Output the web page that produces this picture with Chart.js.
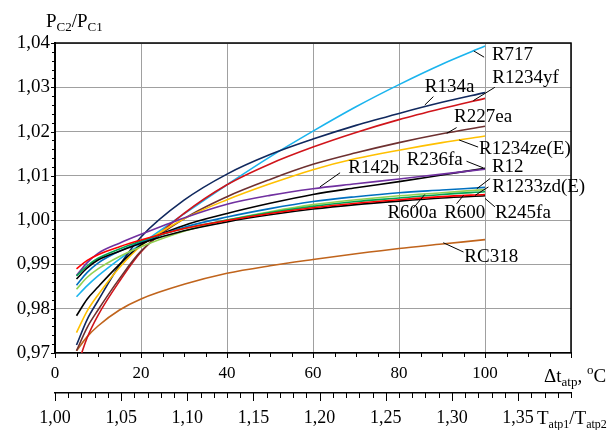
<!DOCTYPE html>
<html lang="ru">
<head>
<meta charset="UTF-8">
<title>Pc2/Pc1</title>
<script src="https://cdn.jsdelivr.net/npm/chart.js"></script>
<style>
    html, body { margin: 0; padding: 0; background: #fff; }
    #wrap { width: 613px; height: 430px; }
</style>
</head>
<body>
<div id="wrap"><canvas id="chart" width="613" height="430"></canvas></div>
<script>
// Δt_atp, °C
const dt = [5, 7.5, 10, 15, 20, 30, 40, 50, 60, 70, 80, 90, 100];

// P_C2/P_C1 по хладагентам
const r717    = [0.9827, 0.9852, 0.9874, 0.9912, 0.9946, 1.0014, 1.0080, 1.0143, 1.0201, 1.0256, 1.0306, 1.0352, 1.0393];
const r134a   = [0.9718, 0.9776, 0.9818, 0.9898, 0.9962, 1.0045, 1.0104, 1.0148, 1.0183, 1.0214, 1.0241, 1.0266, 1.0288];
const r1234yf = [0.9665, 0.9735, 0.9785, 0.9862, 0.9928, 1.0015, 1.0080, 1.0127, 1.0165, 1.0198, 1.0227, 1.0252, 1.0275];
const r227ea  = [0.9705, 0.9758, 0.9797, 0.9868, 0.9930, 1.0003, 1.0053, 1.0092, 1.0126, 1.0152, 1.0175, 1.0195, 1.0212];
const r1234ze = [0.9746, 0.9795, 0.9831, 0.9893, 0.9942, 1.0003, 1.0046, 1.0082, 1.0114, 1.0139, 1.0158, 1.0175, 1.0190];
const r236fa  = [0.9784, 0.9822, 0.9849, 0.9900, 0.9944, 0.9988, 1.0015, 1.0038, 1.0058, 1.0073, 1.0087, 1.0102, 1.0117];
const r142b   = [0.9875, 0.9904, 0.9925, 0.9948, 0.9968, 1.0005, 1.0036, 1.0056, 1.0071, 1.0082, 1.0093, 1.0104, 1.0115];
const r12     = [0.9853, 0.9882, 0.9903, 0.9930, 0.9950, 0.9984, 1.0007, 1.0026, 1.0042, 1.0053, 1.0062, 1.0068, 1.0074];
const r1233zd = [0.9844, 0.9871, 0.9890, 0.9918, 0.9940, 0.9975, 1.0000, 1.0019, 1.0035, 1.0046, 1.0055, 1.0062, 1.0069];
const r600a   = [0.9874, 0.9897, 0.9914, 0.9935, 0.9953, 0.9981, 1.0000, 1.0017, 1.0031, 1.0042, 1.0050, 1.0058, 1.0064];
const r600    = [0.9890, 0.9909, 0.9922, 0.9940, 0.9955, 0.9981, 0.9999, 1.0015, 1.0028, 1.0038, 1.0046, 1.0053, 1.0058];
const r245fa  = [0.9867, 0.9892, 0.9910, 0.9930, 0.9948, 0.9976, 0.9996, 1.0012, 1.0025, 1.0035, 1.0043, 1.0050, 1.0055];
const rc318   = [0.9705, 0.9737, 0.9761, 0.9797, 0.9822, 0.9855, 0.9880, 0.9897, 0.9911, 0.9924, 0.9936, 0.9946, 0.9956];

const names  = ['R600', 'R245fa', 'R600a', 'R12', 'R1233zd(E)', 'R142b', 'R236fa', 'R1234ze(E)', 'R227ea', 'R1234yf', 'R134a', 'R717', 'RC318'];
const series = [r600, r245fa, r600a, r12, r1233zd, r142b, r236fa, r1234ze, r227ea, r1234yf, r134a, r717, rc318];
const colors = ['#ff0000', '#000000', '#00a651', '#0070c0', '#92d050', '#7030a0', '#000000', '#ffc000', '#6e3030', '#d0141a', '#10285e', '#1ab4ee', '#c0641c'];

// тики и подписи осей
const yTicks = [0.97, 0.98, 0.99, 1.00, 1.01, 1.02, 1.03, 1.04];
const xTicks = [0, 20, 40, 60, 80, 100];
const tRatioTicks = [1.00, 1.05, 1.10, 1.15, 1.20, 1.25, 1.30, 1.35];

// подписи кривых: позиция текста и выноска (в единицах осей)
const notes = [
    { t: 'R717',       x: 101.6, y: 1.0373, a: [97.4, 1.0382, 99.8, 1.0368] },
    { t: 'R1234yf',    x: 101.7, y: 1.0320, a: [97.3, 1.0270, 102.3, 1.0300] },
    { t: 'R134a',      x: 86.0,  y: 1.0301, a: [86.0, 1.0260, 88.0, 1.0279] },
    { t: 'R227ea',     x: 92.8,  y: 1.0232, a: [91.1, 1.0196, 93.4, 1.0209] },
    { t: 'R1234ze(E)', x: 98.6,  y: 1.0160, a: [94.0, 1.0181, 98.4, 1.0165] },
    { t: 'R236fa',     x: 81.8,  y: 1.0135, a: [95.7, 1.0133, 99.6, 1.0118] },
    { t: 'R12',        x: 101.6, y: 1.0120, a: [98.1, 1.0071, 101.2, 1.0094] },
    { t: 'R142b',      x: 68.2,  y: 1.0117, a: [61.6, 1.0075, 66.3, 1.0107] },
    { t: 'R1233zd(E)', x: 101.7, y: 1.0075, a: [97.7, 1.0056, 100.8, 1.0075] },
    { t: 'R600a',      x: 77.3,  y: 1.0015, a: [83.3, 1.0027, 86.0, 1.0058] },
    { t: 'R600',       x: 90.5,  y: 1.0015, a: [93.4, 1.0037, 95.0, 1.0056] },
    { t: 'R245fa',     x: 102.3, y: 1.0015, a: [100.0, 1.0049, 102.3, 1.0030] },
    { t: 'RC318',      x: 95.2,  y: 0.9917, a: [90.3, 0.9949, 95.0, 0.9928] }
];

const FONT = '"Liberation Serif", "Times New Roman", serif';
const comma = v => v.toFixed(2).replace('.', ',');

// текст с индексами: [строка, 0 - обычный, 1 - нижний, 2 - верхний]
function rich(ctx, x, y, parts, sub) {
    ctx.textBaseline = 'alphabetic';
    ctx.textAlign = 'left';
    parts.forEach(p => {
        ctx.font = (p[1] ? sub : 19) + 'px ' + FONT;
        const dy = p[1] === 1 ? 4 : (p[1] === 2 ? -8 : 0);
        ctx.fillText(p[0], x, y + dy);
        x += ctx.measureText(p[0]).width;
    });
}

const extras = {
    id: 'extras',
    afterDraw(chart) {
        const ctx = chart.ctx;
        const a = chart.chartArea;
        const sx = chart.scales.x, sy = chart.scales.y, s2 = chart.scales.x2;
        ctx.save();
        ctx.strokeStyle = '#000';
        ctx.fillStyle = '#000';

        // рамка
        ctx.lineWidth = 1.5;
        ctx.beginPath();
        ctx.moveTo(a.left, a.top);
        ctx.lineTo(a.right, a.top);
        ctx.lineTo(a.right, a.bottom);
        ctx.stroke();

        // мелкие и основные риски
        ctx.lineWidth = 1;
        ctx.beginPath();
        for (let i = 0; i <= 35; i++) {
            const py = Math.round(sy.getPixelForValue(0.97 + i * 0.002)) + 0.5;
            const len = i % 5 === 0 ? 4 : 3;
            ctx.moveTo(a.left - len, py);
            ctx.lineTo(a.left, py);
        }
        for (let v = 0; v <= 120; v += 5) {
            const px = Math.round(sx.getPixelForValue(v)) + 0.5;
            ctx.moveTo(px, a.bottom);
            ctx.lineTo(px, a.bottom + (v % 20 === 0 ? 5 : 4));
        }
        for (let i = 100; i <= 139; i++) {
            const px = Math.round(s2.getPixelForValue(i / 100)) + 0.5;
            ctx.moveTo(px, s2.top);
            ctx.lineTo(px, s2.top + (i % 5 === 0 ? 8 : 5));
        }
        ctx.stroke();

        // заголовки осей
        rich(ctx, 46, 27, [['P', 0], ['C2', 1], ['/P', 0], ['C1', 1]], 13);
        rich(ctx, 544, 382, [['\u0394t', 0], ['atp', 1], [', ', 0], ['o', 2], ['C', 0]], 13);
        rich(ctx, 537, 424, [['T', 0], ['atp1', 1], ['/T', 0], ['atp2', 1]], 12);

        // подписи кривых
        ctx.font = '19px ' + FONT;
        ctx.textBaseline = 'middle';
        ctx.textAlign = 'left';
        ctx.lineWidth = 1;
        notes.forEach(n => {
            ctx.beginPath();
            ctx.moveTo(sx.getPixelForValue(n.a[0]), sy.getPixelForValue(n.a[1]));
            ctx.lineTo(sx.getPixelForValue(n.a[2]), sy.getPixelForValue(n.a[3]));
            ctx.stroke();
            ctx.fillText(n.t, sx.getPixelForValue(n.x), sy.getPixelForValue(n.y));
        });
        ctx.restore();
    }
};

const datasets = series.map((s, i) => ({
    label: names[i],
    data: dt.map((x, j) => ({ x: x, y: s[j] })),
    borderColor: colors[i],
    borderWidth: 1.6,
    pointRadius: 0,
    fill: false,
    cubicInterpolationMode: 'monotone'
}));

new Chart(document.getElementById('chart'), {
    type: 'line',
    data: { datasets: datasets },
    plugins: [extras],
    options: {
        responsive: false,
        animation: false,
        devicePixelRatio: 1,
        layout: { padding: { top: 43, right: 42, left: 0, bottom: 0 } },
        plugins: { legend: { display: false }, tooltip: { enabled: false } },
        scales: {
            x: {
                type: 'linear', position: 'bottom', min: 0, max: 120,
                afterBuildTicks: s => { s.ticks = xTicks.concat([120]).map(v => ({ value: v })); },
                ticks: { font: { family: FONT, size: 17 }, color: '#000', padding: 10, maxRotation: 0,
                         callback: v => (xTicks.includes(v) ? String(v) : '') },
                grid: { color: '#a0a0a0', lineWidth: 1, drawTicks: false },
                border: { color: '#000', width: 1.5 },
                afterFit: s => { s.height = 40; }
            },
            x2: {
                type: 'linear', position: 'bottom', min: 1.0, max: 1.39,
                afterBuildTicks: s => { s.ticks = tRatioTicks.map(v => ({ value: v })); },
                ticks: { font: { family: FONT, size: 18 }, color: '#000', padding: 14, maxRotation: 0, autoSkip: false,
                         callback: v => comma(v) },
                grid: { drawOnChartArea: false, drawTicks: false },
                border: { color: '#000', width: 1.5 },
                afterFit: s => { s.height = 37; }
            },
            y: {
                type: 'linear', min: 0.97, max: 1.04,
                afterBuildTicks: s => { s.ticks = yTicks.map(v => ({ value: v })); },
                ticks: { font: { family: FONT, size: 19 }, color: '#000', padding: 5, callback: v => comma(v) },
                grid: { color: '#a0a0a0', lineWidth: 1, drawTicks: false },
                border: { color: '#000', width: 2 },
                afterFit: s => { s.width = 55; }
            }
        }
    }
});
</script>
</body>
</html>
